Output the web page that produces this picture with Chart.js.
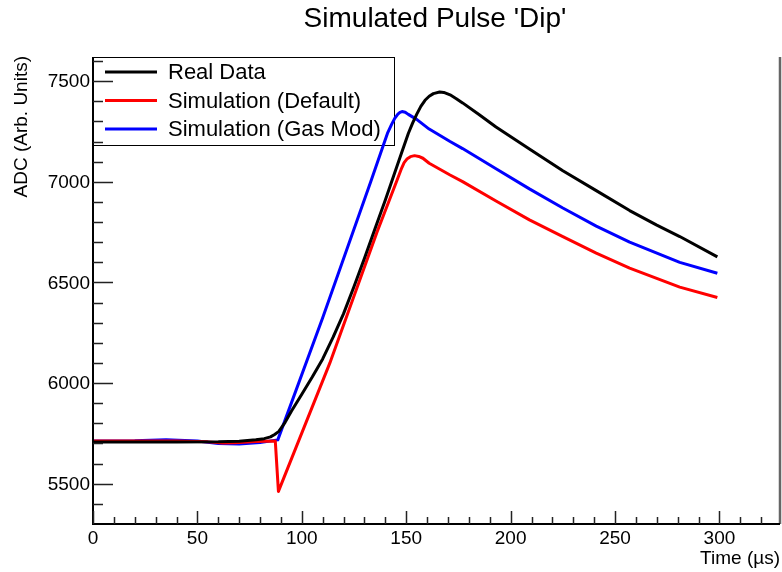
<!DOCTYPE html>
<html>
<head>
<meta charset="utf-8">
<script src="https://cdn.jsdelivr.net/npm/chart.js@4.4.1/dist/chart.umd.min.js"></script>
<style>
  html, body { margin: 0; padding: 0; background: #fff; }
  #wrap { position: relative; width: 782px; height: 572px; }
</style>
</head>
<body>
<div id="wrap"><canvas id="pulse"></canvas></div>
<script>
// --- data ---
const realTime = [0, 20, 40, 60, 70, 78, 82, 85, 87, 89, 92, 95, 100, 105, 110, 115, 120, 125, 130, 135, 140, 144, 148, 151, 153, 155, 157, 159, 161, 163, 166, 168, 171, 174, 177, 185, 193, 209, 225, 241, 257, 270, 281, 299];
const realAdc  = [5707, 5707, 5707, 5708, 5711, 5718, 5724, 5733, 5745, 5760, 5805, 5860, 5945, 6030, 6120, 6228, 6345, 6480, 6620, 6765, 6910, 7030, 7150, 7240, 7290, 7335, 7375, 7405, 7425, 7438, 7446, 7444, 7432, 7413, 7392, 7333, 7272, 7163, 7055, 6956, 6857, 6785, 6728, 6627];

const defTime = [0, 20, 40, 55, 62, 68, 78, 87.3, 88.8, 113.4, 127.8, 136, 145.5, 147.5, 149, 150.5, 152, 154, 156, 158, 161, 171, 177, 193, 209, 225, 241, 257, 281, 299];
const defAdc  = [5712, 5712, 5712, 5708, 5703, 5704, 5710, 5712, 5462, 6099, 6513, 6750, 7005, 7060, 7095, 7115, 7125, 7130, 7126, 7117, 7092, 7034, 7001, 6905, 6811, 6728, 6646, 6571, 6477, 6425];

const gasTime = [0, 20, 35, 50, 60, 70, 80, 88.5, 110, 133, 139, 141, 143, 144.5, 146, 147, 148, 149.5, 151, 155, 161, 171, 177, 193, 209, 225, 241, 257, 281, 299];
const gasAdc  = [5712, 5713, 5718, 5712, 5700, 5697, 5705, 5718, 6325, 7000, 7180, 7240, 7285, 7315, 7336, 7345, 7349, 7346, 7335, 7310, 7262, 7200, 7165, 7065, 6965, 6870, 6780, 6700, 6600, 6546];

const seriesNames = ['Real Data', 'Simulation (Default)', 'Simulation (Gas Mod)'];
const seriesColors = ['#000000', '#ff0000', '#0000ff'];

const xTicks = [0, 50, 100, 150, 200, 250, 300];
const yTicks = [5500, 6000, 6500, 7000, 7500];

const FONT = '"Liberation Sans", Arial, Helvetica, sans-serif';

function toPoints(xs, ys) {
  return xs.map((x, i) => ({ x: x, y: ys[i] }));
}

// legend drawn under the lines (blue crosses the box in the reference)
const legendBox = {
  id: 'legendBox',
  beforeDatasetsDraw(chart) {
    const ctx = chart.ctx;
    const a = chart.chartArea;
    ctx.save();
    ctx.fillStyle = '#fff';
    ctx.fillRect(a.left, a.top, 301, 88);
    ctx.strokeStyle = '#000';
    ctx.lineWidth = 1;
    ctx.strokeRect(a.left + 0.5, a.top + 0.5, 301, 88);
    ctx.font = '22px ' + FONT;
    ctx.textBaseline = 'middle';
    ctx.textAlign = 'left';
    seriesNames.forEach((name, i) => {
      const y = a.top + 15 + i * 28.5;
      ctx.strokeStyle = seriesColors[i];
      ctx.lineWidth = 3;
      ctx.beginPath();
      ctx.moveTo(a.left + 12, y);
      ctx.lineTo(a.left + 64, y);
      ctx.stroke();
      ctx.fillStyle = '#000';
      ctx.fillText(name, a.left + 75, y + 1);
    });
    ctx.restore();
  }
};

// ROOT-like frame: inner ticks, labels, titles
const rootFrame = {
  id: 'rootFrame',
  afterDraw(chart) {
    const ctx = chart.ctx;
    const a = chart.chartArea;
    const xs = chart.scales.x;
    const ys = chart.scales.y;
    ctx.save();

    // right border
    ctx.strokeStyle = '#666';
    ctx.lineWidth = 2.5;
    ctx.beginPath();
    ctx.moveTo(a.right, a.top);
    ctx.lineTo(a.right, a.bottom);
    ctx.stroke();

    // axes
    ctx.strokeStyle = '#000';
    ctx.lineWidth = 2;
    ctx.beginPath();
    ctx.moveTo(a.left, a.top);
    ctx.lineTo(a.left, a.bottom);
    ctx.lineTo(a.right, a.bottom);
    ctx.stroke();

    // ticks
    ctx.lineWidth = 1.5;
    ctx.strokeStyle = '#222';
    ctx.beginPath();
    for (let v = 0; v <= xs.max; v += 10) {
      const px = Math.round(xs.getPixelForValue(v)) + 0.5;
      const len = v % 50 === 0 ? 13 : 7;
      ctx.moveTo(px, a.bottom);
      ctx.lineTo(px, a.bottom - len);
    }
    for (let v = 5400; v <= ys.max; v += 100) {
      const py = Math.round(ys.getPixelForValue(v)) + 0.5;
      const len = v % 500 === 0 ? 20 : 10;
      ctx.moveTo(a.left, py);
      ctx.lineTo(a.left + len, py);
    }
    ctx.stroke();

    // tick labels
    ctx.fillStyle = '#000';
    ctx.font = '19px ' + FONT;
    ctx.textAlign = 'center';
    ctx.textBaseline = 'middle';
    xTicks.forEach(v => ctx.fillText(String(v), xs.getPixelForValue(v), a.bottom + 15));
    ctx.textAlign = 'right';
    yTicks.forEach(v => ctx.fillText(String(v), a.left - 3, ys.getPixelForValue(v) + 1));

    // axis titles
    ctx.font = '19px ' + FONT;
    ctx.textAlign = 'right';
    ctx.textBaseline = 'alphabetic';
    ctx.fillText('Time (\u00b5s)', a.right, 564);
    ctx.save();
    ctx.translate(27, a.top - 1);
    ctx.rotate(-Math.PI / 2);
    ctx.fillText('ADC (Arb. Units)', 0, 0);
    ctx.restore();

    // main title
    ctx.font = '28px ' + FONT;
    ctx.textAlign = 'center';
    ctx.textBaseline = 'middle';
    ctx.fillText("Simulated Pulse 'Dip'", 435, 19);

    ctx.restore();
  }
};

const ctx = document.getElementById('pulse').getContext('2d');
new Chart(ctx, {
  type: 'line',
  data: {
    datasets: [
      { label: seriesNames[0], data: toPoints(realTime, realAdc), borderColor: seriesColors[0] },
      { label: seriesNames[1], data: toPoints(defTime, defAdc), borderColor: seriesColors[1] },
      { label: seriesNames[2], data: toPoints(gasTime, gasAdc), borderColor: seriesColors[2] }
    ]
  },
  options: {
    responsive: true,
    maintainAspectRatio: false,
    animation: false,
    devicePixelRatio: 1,
    layout: { padding: { left: 93, right: 2, top: 57, bottom: 48 } },
    elements: {
      point: { radius: 0 },
      line: { borderWidth: 3, tension: 0, borderJoinStyle: 'round', fill: false }
    },
    scales: {
      x: { type: 'linear', min: 0, max: 329, display: false },
      y: { type: 'linear', min: 5300, max: 7620, display: false }
    },
    plugins: {
      legend: { display: false },
      title: { display: false },
      tooltip: { enabled: false }
    }
  },
  plugins: [legendBox, rootFrame]
});
</script>
</body>
</html>
